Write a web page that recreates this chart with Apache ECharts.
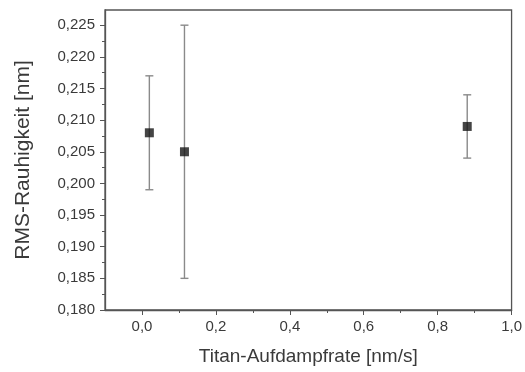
<!DOCTYPE html>
<html>
<head>
<meta charset="utf-8">
<script src="https://cdn.jsdelivr.net/npm/echarts@6/dist/echarts.min.js"></script>
<style>html,body{margin:0;padding:0;background:#fff}#c{width:525px;height:372px}</style>
</head>
<body>
<div id="c"></div>
<script>
const xValues = [0.02, 0.115, 0.88];
const yValues = [0.208, 0.205, 0.209];
const errLow = [0.199, 0.185, 0.204];
const errHigh = [0.217, 0.225, 0.214];
const xMajorTicks = [0.0, 0.2, 0.4, 0.6, 0.8, 1.0];
const xMinorTicks = [0.1, 0.3, 0.5, 0.7, 0.9];
const yMajorTicks = [0.180, 0.185, 0.190, 0.195, 0.200, 0.205, 0.210, 0.215, 0.220, 0.225];

const chart = echarts.init(document.getElementById('c'), null, {renderer: 'canvas'});
const axisColor = '#555';
const textColor = '#3a3a3a';
const font = 'Liberation Sans, Arial, sans-serif';

chart.setOption({
  animation: false,
  grid: {left: 105, right: 12, top: 10, bottom: 62, show: true, borderColor: axisColor, borderWidth: 1.3, containLabel: false},
  xAxis: [{
    type: 'value', min: -0.1, max: 1.0, interval: 0.1,
    name: 'Titan-Aufdampfrate [nm/s]', nameLocation: 'middle', nameGap: 37,
    nameTextStyle: {fontSize: 19, color: textColor, fontFamily: font},
    axisLine: {show: true, onZero: false, lineStyle: {color: axisColor, width: 1.3}},
    axisTick: {show: true, length: 5, customValues: xMajorTicks, lineStyle: {color: axisColor}},
    minorTick: {show: false},
    splitLine: {show: false},
    axisLabel: {fontSize: 15, color: textColor, fontFamily: font, margin: 9,
      customValues: xMajorTicks,
      formatter: v => (Math.abs(v) < 1e-9 ? 0 : v).toFixed(1).replace('.', ',')}
  }, {
    type: 'value', min: -0.1, max: 1.0, interval: 0.1, position: 'bottom', gridIndex: 0,
    axisLine: {show: false, onZero: false},
    axisTick: {show: true, length: 3, customValues: xMinorTicks, lineStyle: {color: axisColor}},
    axisLabel: {show: false},
    splitLine: {show: false}
  }],
  yAxis: {
    type: 'value', min: 0.18, max: 0.2274, interval: 0.005,
    name: 'RMS-Rauhigkeit [nm]', nameLocation: 'middle', nameGap: 71,
    nameTextStyle: {fontSize: 21, color: textColor, fontFamily: font},
    axisLine: {show: true, onZero: false, lineStyle: {color: axisColor, width: 1.3}},
    axisTick: {show: true, length: 5, customValues: yMajorTicks, lineStyle: {color: axisColor}},
    minorTick: {show: true, splitNumber: 2, length: 3, lineStyle: {color: axisColor}},
    splitLine: {show: false},
    axisLabel: {fontSize: 15, color: textColor, fontFamily: font, margin: 10,
      customValues: yMajorTicks,
      formatter: v => v.toFixed(3).replace('.', ',')}
  },
  series: [
    {
      type: 'custom',
      data: xValues.map((x, i) => [x, errLow[i], errHigh[i]]),
      renderItem: function (params, api) {
        const x = api.value(0);
        const lo = api.coord([x, api.value(1)]);
        const hi = api.coord([x, api.value(2)]);
        const w = 4;
        const style = {stroke: '#8a8a8a', lineWidth: 1.4};
        return {type: 'group', children: [
          {type: 'line', shape: {x1: hi[0], y1: hi[1], x2: lo[0], y2: lo[1]}, style},
          {type: 'line', shape: {x1: hi[0] - w, y1: hi[1], x2: hi[0] + w, y2: hi[1]}, style},
          {type: 'line', shape: {x1: lo[0] - w, y1: lo[1], x2: lo[0] + w, y2: lo[1]}, style}
        ]};
      },
      z: 1
    },
    {
      type: 'scatter',
      data: xValues.map((x, i) => [x, yValues[i]]),
      symbol: 'rect', symbolSize: 9,
      itemStyle: {color: '#151515'},
      z: 3
    }
  ]
});
</script>
</body>
</html>
